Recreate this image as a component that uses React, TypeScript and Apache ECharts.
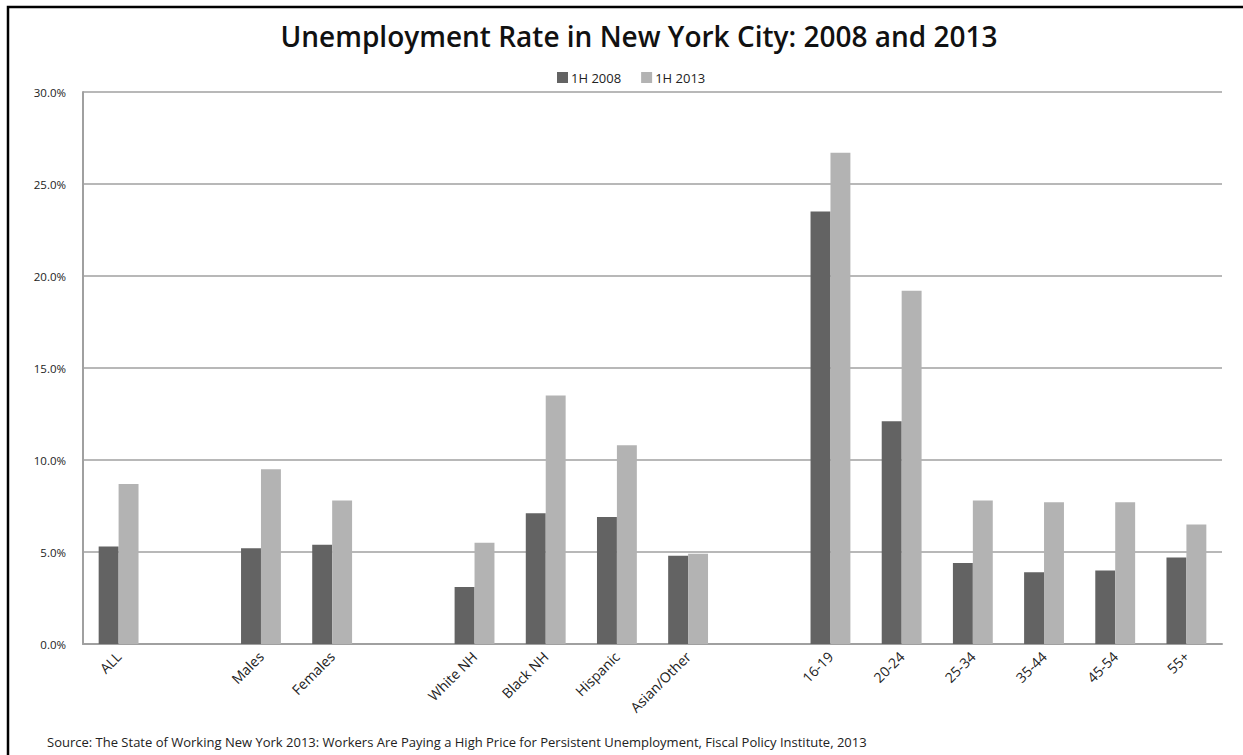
import React, { useEffect, useRef } from "react";
import * as echarts from "echarts";

const categories = ["ALL", "", "Males", "Females", "", "White NH", "Black NH", "Hispanic", "Asian/Other", "", "16-19", "20-24", "25-34", "35-44", "45-54", "55+"];
const series2008 = [5.3, null, 5.2, 5.4, null, 3.1, 7.1, 6.9, 4.8, null, 23.5, 12.1, 4.4, 3.9, 4.0, 4.7];
const series2013 = [8.7, null, 9.5, 7.8, null, 5.5, 13.5, 10.8, 4.9, null, 26.7, 19.2, 7.8, 7.7, 7.7, 6.5];
const seriesNames = ["1H 2008", "1H 2013"];
const yTicks = { min: 0, max: 30, interval: 5 };
const titleText = "Unemployment Rate in New York City: 2008 and 2013";
const sourceText = "Source: The State of Working New York 2013: Workers Are Paying a High Price for Persistent Unemployment, Fiscal Policy Institute, 2013";

const FONT = "'Open Sans', 'Noto Sans', sans-serif";

export default function App() {
  const ref = useRef<HTMLDivElement>(null);
  useEffect(() => {
    if (!ref.current) return;
    const chart = echarts.init(ref.current, undefined, { renderer: "svg" });
    chart.setOption({
      animation: false,
      backgroundColor: "#ffffff",
      textStyle: { fontFamily: FONT },
      title: {
        text: titleText,
        left: 634,
        textAlign: "center",
        top: 17,
        textStyle: { fontSize: 28, fontWeight: 600, color: "#111", fontFamily: FONT },
      },
      legend: {
        data: seriesNames,
        top: 66,
        left: 552,
        itemWidth: 11,
        itemHeight: 11,
        itemGap: 20,
        icon: "rect",
        textStyle: { fontSize: 13, color: "#222", fontFamily: FONT, padding: [0, 0, 0, -2] },
      },
      grid: { left: 83, right: 21, top: 92, bottom: 111, containLabel: false },
      xAxis: {
        type: "category",
        data: categories,
        axisLine: { show: true, lineStyle: { color: "#a0a0a0", width: 2 } },
        axisTick: { show: false },
        axisLabel: { rotate: 45, fontSize: 14, color: "#222", margin: 10, interval: 0, fontFamily: FONT },
      },
      yAxis: {
        type: "value",
        min: yTicks.min,
        max: yTicks.max,
        interval: yTicks.interval,
        axisLine: { show: true, lineStyle: { color: "#a0a0a0", width: 2 } },
        axisTick: { show: false },
        splitLine: { show: true, lineStyle: { color: "#a0a0a0", width: 1.5 } },
        axisLabel: {
          fontSize: 11.5,
          color: "#222",
          margin: 17,
          fontFamily: FONT,
          formatter: (v: number) => v.toFixed(1) + "%",
        },
      },
      series: [
        {
          name: seriesNames[0],
          type: "bar",
          data: series2008,
          barGap: "0%",
          barCategoryGap: "44%",
          itemStyle: { color: "#636363" },
        },
        {
          name: seriesNames[1],
          type: "bar",
          data: series2013,
          barGap: "0%",
          barCategoryGap: "44%",
          itemStyle: { color: "#b3b3b3" },
        },
      ],
      graphic: [
        {
          type: "rect",
          shape: { x: 8, y: 7, width: 1260, height: 780 },
          style: { fill: "none", stroke: "#000", lineWidth: 2.5 },
          silent: true,
        },
        {
          type: "text",
          left: 47,
          top: 735,
          style: { text: sourceText, fontSize: 13, fill: "#222", fontFamily: FONT },
          silent: true,
        },
      ],
    });
    return () => chart.dispose();
  }, []);
  return (
    <div
      ref={ref}
      style={{ position: "absolute", left: 0, top: 0, width: 1243, height: 755 }}
    />
  );
}
